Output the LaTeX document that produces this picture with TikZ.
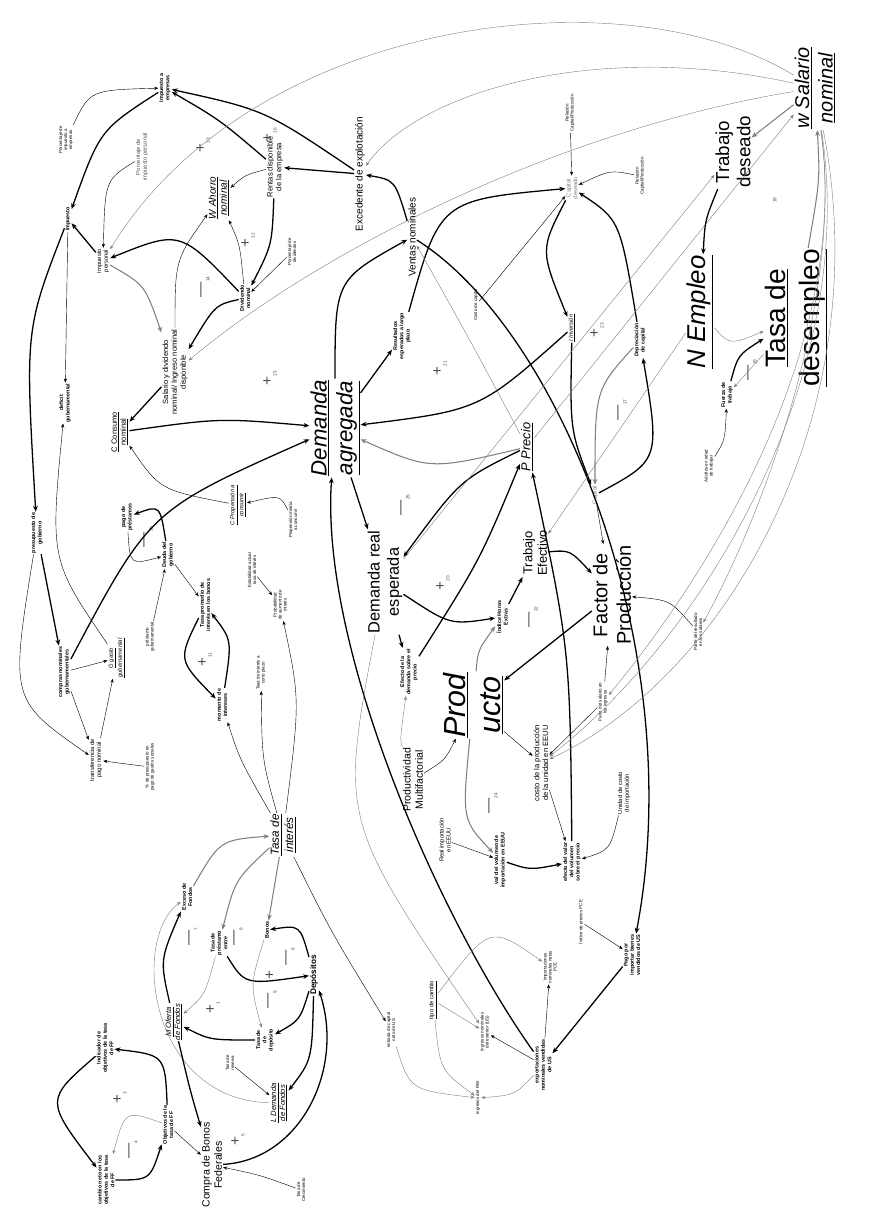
\documentclass[tikz,border=0pt]{standalone}
\usepackage{fontspec}
\setmainfont{Liberation Sans}
\usetikzlibrary{arrows.meta}
\newcommand\ul[1]{\underline{#1}}
\newcommand\uit[1]{\underline{\textit{#1}}}
\newcommand\lpn[2]{#1\raisebox{-4pt}{\fontsize{4}{4}\selectfont #2}}
\tikzset{
  v/.style={rotate=90, align=center, inner sep=0.8pt},
  vt/.style={v, font=\fontsize{3.8}{4.3}\selectfont},
  vs/.style={v, font=\fontsize{5}{5.8}\selectfont},
  vb/.style={v, font=\bfseries\fontsize{4.6}{5.4}\selectfont},
  vn/.style={v, font=\fontsize{6.5}{7.6}\selectfont},
  vm/.style={v, font=\fontsize{8.5}{9.5}\selectfont},
  vl/.style={v, font=\fontsize{11}{12.5}\selectfont},
  vg/.style={v, font=\fontsize{16}{18}\selectfont},
  lp/.style={rotate=90, font=\fontsize{13}{13}\selectfont, inner sep=0pt, gray!60!black},
  ln/.style={-{Stealth[length=3.5pt,width=2.8pt]}, line width=0.35pt},
  lg/.style={ln, gray},
  lk/.style={-{Stealth[length=5pt,width=4pt]}, line width=1.1pt},
  lgk/.style={lk, gray, line width=0.9pt},
}
\begin{document}
\begin{tikzpicture}[x=0.03cm, y=-0.03cm]
  \useasboundingbox (0,0) rectangle (868,1210);
  % ---- empresas, hogares y gobierno
  \node[vb] (impemp) at (165,88) {Impuesto a\\empresas};
  \node[vt] (pctemp) at (66,140) {Porcentaje de\\impuesto a\\empresas};
  \node[vs,gray!70!black] (pctper) at (142,157) {Porcentaje de\\impuesto personal};
  \node[vn] (rentas) at (275,167) {Rentas disponible\\de la empresa};
  \node[vm] (ahorro) at (219,198) {\uit{W Ahorro}\\\uit{nominal}};
  \node[vb] (impto) at (68,219) {Impuesto};
  \node[vs] (impper) at (103,261) {Impuesto\\personal};
  \node[vt] (pctdiv) at (292,252) {Porcentaje de\\dividendos};
  \node[vb] (divnom) at (245,298) {Dividendo\\nominal};
  \node[vn] (saldiv) at (175,372) {Salario y dividendo\\nominal/ Ingreso nominal\\disponible};
  \node[vn] (consumo) at (120,432) {\ul{C Consumo}\\\ul{nominal}};
  \node[vb] (deficit) at (65,403) {deficit\\gubernamental};
  \node[vm] (exced) at (360,174) {Excedente de explotación};
  \node[vm] (ventas) at (412,237) {Ventas nominales};
  \node[vb] (presup) at (37,533) {presupuesto de\\gobierno};
  \node[vb] (pagoint) at (127,517) {pago de\\préstamos};
  \node[vb] (deuda) at (168,555) {Deuda del\\gobierno};
  \node[vt] (prestgob) at (150,637) {préstamo\\gubernamental};
  \node[vs] (propens) at (238,505) {\uit{C Propensión a}\\\uit{consumir}};
  \node[vt] (propmed) at (293,520) {Propensión media\\a consumir};
  \node[vt] (estab) at (252,570) {Estabilidad actual\\tasa de interés};
  \node[vb] (compras) at (64,672) {compras nominales\\gubernamentales};
  \node[vs] (gasto) at (117,658) {\uit{G gasto}\\\uit{gubernamental}};
  \node[vs] (transf) at (96,760) {transferencia de\\pago nominal};
  \node[vt] (pctpres) at (150,767) {\% de presupuesto en\\pago de gastos sociales};
  \node[vb] (tasaprom) at (205,605) {Tasa promedio de\\interés en los bonos};
  \node[vb] (momento) at (222,705) {momento de\\intereses};
  \node[vt] (tasacorto) at (261,673) {Tasa de interés a\\corto plazo};
  \node[vt] (probab) at (280,605) {Probabilidad\\de aumento de\\interés};
  % ---- capital, trabajo y precios
  \node[vt] (relcp1) at (570,113) {Relación\\Capital/Producción};
  \node[vs,gray] (capdes) at (572,188) {Capital\\deseado};
  \node[vt] (relcp2) at (640,176) {Relación\\Capital/Producción};
  \node[vg] (trabdes) at (733,152) {Trabajo\\deseado};
  \node[v,font=\fontsize{17}{20}\selectfont] (salario) at (815,88) {\uit{w Salario}\\\uit{nominal}};
  \node[v,font=\fontsize{22}{24}\selectfont] (nempleo) at (700,312) {\uit{N Empleo}};
  \node[v,font=\fontsize{24}{29}\selectfont] (tasades) at (796,318) {\ul{Tasa de}\\\ul{desempleo}};
  \node[vb] (fuerza) at (727,395) {Fuerza de\\trabajo};
  \node[vt] (adultos) at (709,466) {Adultos en edad\\de trabajar};
  \node[vs] (inversion) at (572,328) {\uit{I Inversión}};
  \node[vb] (deprec) at (640,340) {Depreciación\\de capital};
  \node[vs,gray] (capital) at (595,495) {Capital};
  \node[v,font=\fontsize{19}{22}\selectfont] (demagr) at (335,428) {\uit{Demanda}\\\uit{agregada}};
  \node[vb] (resesp) at (402,336) {Resultados\\esperados a largo\\plazo};
  \node[vt] (costocap) at (476,305) {Costo de capital};
  \node[vl] (precio) at (527,447) {\uit{P Precio}};
  \node[v,font=\fontsize{14}{16.5}\selectfont] (demreal) at (385,582) {Demanda real\\esperada};
  \node[vl] (trabef) at (535,553) {Trabajo\\Efectivo};
  \node[v,font=\fontsize{17}{20}\selectfont] (factor) at (612,595) {Factor de\\Producción};
  \node[vb] (horas) at (502,617) {Índice Horas\\Extras};
  \node[vb] (efdem) at (409,672) {Efecto de la\\demanda sobre el\\precio};
  \node[v,font=\fontsize{26}{30}\selectfont] (prod) at (473,705) {\uit{Prod}\\\uit{ucto}};
  \node[v,font=\fontsize{9}{10.5}\selectfont] (pmf) at (413,780) {Productividad\\Multifactorial};
  \node[vn] (costprod) at (541,763) {costo de la producción\\de la unidad en EEUU};
  \node[vs] (realimp) at (445,840) {Real importación\\en EEUU};
  \node[vb] (valvol) at (500,860) {val del volumen de\\importación en EEUU};
  \node[vb] (efval) at (572,862) {efecto del valor\\del volumen\\sobre el precio};
  \node[vs] (unidad) at (624,793) {Unidad de costo\\de importación};
  \node[vt] (partesal) at (603,702) {Parte del salario en\\los ingresos};
  \node[vt] (parteres) at (698,632) {Parte del resultado\\en los salarios};
  % ---- sector externo
  \node[vt] (indprec) at (581,922) {Índice de precios PCE};
  \node[vb] (pago) at (632,955) {Pago por\\importar bienes\\vendidos de US};
  \node[vb] (export) at (543,1065) {exportaciones\\nominales vendidas\\de US};
  \node[vt] (imppce) at (550,967) {Importaciones\\nominales netas\\PCE};
  \node[vs] (tipo) at (433,1000) {\ul{tipo de cambio}};
  \node[vt] (ingnom) at (485,1032) {Ingresos nominales\\del exterior (US)};
  \node[vt] (ingrw) at (478,1098) {Ingresos del RW};
  \node[vt] (entrada) at (391,1030) {entrada de capital\\neto de US};
  % ---- mercado de fondos
  \node[v,font=\fontsize{10}{12}\selectfont] (tasaint) at (283,835) {\uit{Tasa de}\\\uit{interés}};
  \node[v,font=\bfseries\fontsize{7}{8}\selectfont] (depos) at (314,975) {Depósitos};
  \node[vt] (tasacrec) at (301,1190) {Tasa de\\Crecimiento};
  \node[v,font=\fontsize{9}{10.5}\selectfont] (compra) at (212,1165) {Compra de Bonos\\Federales};
  \node[vn] (ldem) at (279,1103) {\uit{L Demanda}\\\uit{de Fondos}};
  \node[vt] (tasares) at (230,1063) {Tasa de\\reserva};
  \node[vn] (moferta) at (174,1022) {\uit{M Oferta}\\\uit{de Fondos}};
  \node[vb] (exceso) at (187,897) {Exceso de\\Fondos};
  \node[vb] (tasaprest) at (219,943) {Tasa de\\préstamo\\entre};
  \node[vb] (bonos) at (267,930) {Bonos};
  \node[vb] (tasadep) at (265,1040) {Tasa de\\de\\depósito};
  \node[vb] (indic) at (105,1048) {Indicador de\\objetivos de la tasa\\de FF};
  \node[vb] (objet) at (168,1125) {Objetivos de la\\tasa de FF};
  \node[vb] (cambio) at (106,1180) {cambio neto en los\\objetivos de la tasa\\de FF};
  % ---- lazos
  \node[lp] at (203,145) {\lpn{+}{13}};
  \node[lp] at (270,135) {\lpn{+}{16}};
  \node[lp] at (248,240) {\lpn{+}{12}};
  \node[lp] at (205,287) {\lpn{\textemdash}{14}};
  \node[lp] at (270,378) {\lpn{+}{15}};
  \node[lp] at (440,368) {\lpn{+}{21}};
  \node[lp] at (405,505) {\lpn{\textemdash}{25}};
  \node[lp] at (443,583) {\lpn{+}{20}};
  \node[lp] at (533,617) {\lpn{\textemdash}{22}};
  \node[lp] at (597,330) {\lpn{+}{23}};
  \node[lp] at (622,410) {\lpn{\textemdash}{17}};
  \node[lp] at (774,200) {\lpn{}{18}};
  \node[lp] at (752,370) {\lpn{\textemdash}{19}};
  \node[lp] at (493,803) {\lpn{\textemdash}{24}};
  \node[lp] at (148,537) {\lpn{\textemdash}{10}};
  \node[lp] at (205,660) {\lpn{+}{11}};
  \node[lp] at (120,1098) {\lpn{+}{3}};
  \node[lp] at (133,1150) {\lpn{\textemdash}{4}};
  \node[lp] at (238,1140) {\lpn{+}{5}};
  \node[lp] at (193,937) {\lpn{\textemdash}{7}};
  \node[lp] at (238,937) {\lpn{\textemdash}{8}};
  \node[lp] at (290,957) {\lpn{\textemdash}{6}};
  \node[lp] at (270,975) {+};
  \node[lp] at (272,1000) {\lpn{\textemdash}{9}};
  \node[lp] at (213,1008) {\lpn{+}{1}};
  % ---- conectores: empresas, hogares y gobierno
  \draw[lk] (exced) .. controls (265,110) .. (impemp);
  \draw[lk] (rentas) .. controls (220,120) .. (impemp);
  \draw[lk] (exced) -- (rentas);
  \draw[ln] (pctemp) .. controls (90,90) .. (impemp);
  \draw[lk] (impemp) .. controls (100,130) .. (impto);
  \draw[lk] (impper) -- (impto);
  \draw[ln] (pctper) .. controls (105,180) .. (impper);
  \draw[lg] (salario) .. controls (620,-30) and (250,20) .. (impper);
  \draw[lg] (salario) .. controls (600,40) and (420,90) .. (exced);
  \draw[lg] (salario) .. controls (560,130) and (320,250) .. (saldiv);
  \draw[lk] (divnom) .. controls (180,230) .. (impper);
  \draw[ln] (rentas) .. controls (245,175) .. (ahorro);
  \draw[lk] (rentas) .. controls (272,245) .. (divnom);
  \draw[ln] (pctdiv) -- (divnom);
  \draw[ln] (divnom) .. controls (240,245) .. (ahorro);
  \draw[ln] (saldiv) .. controls (175,260) .. (ahorro);
  \draw[lk] (divnom) .. controls (215,305) .. (saldiv);
  \draw[lgk] (impper) .. controls (145,285) .. (saldiv);
  \draw[lk] (saldiv) -- (consumo);
  \draw[lk] (consumo) .. controls (220,418) .. (demagr);
  \draw[lk] (compras) .. controls (150,510) .. (demagr);
  \draw[ln] (propens) .. controls (160,490) .. (consumo);
  \draw[ln] (propmed) .. controls (280,495) .. (propens);
  \draw[ln] (impto) -- (deficit);
  \draw[lk] (impto) .. controls (25,330) .. (presup);
  \draw[ln] (gasto) .. controls (50,560) .. (deficit);
  \draw[lk] (presup) -- (compras);
  \draw[ln] (presup) .. controls (10,700) .. (transf);
  \draw[ln] (compras) -- (gasto);
  \draw[ln] (transf) -- (gasto);
  \draw[ln] (pctpres) -- (transf);
  \draw[ln] (compras) -- (transf);
  \draw[lk] (deuda) .. controls (160,505) .. (pagoint);
  \draw[ln] (pagoint) .. controls (130,565) .. (deuda);
  \draw[ln] (deuda) -- (tasaprom);
  \draw[ln] (prestgob) -- (deuda);
  \draw[ln] (estab) -- (probab);
  \draw[lk] (tasaprom) .. controls (178,660) .. (momento);
  \draw[lk] (momento) .. controls (232,640) .. (tasaprom);
  % ---- conectores: capital, trabajo y precios
  \draw[lk] (demagr) .. controls (335,280) .. (ventas);
  \draw[lk] (demagr) -- (resesp);
  \draw[lk] (resesp) .. controls (440,200) .. (capdes);
  \draw[lk] (demagr) -- (demreal);
  \draw[lk] (ventas) .. controls (395,180) .. (exced);
  \draw[lk] (ventas) .. controls (560,330) and (690,650) .. (pago);
  \draw[lk] (export) .. controls (440,920) and (320,650) .. (demagr);
  \draw[lk] (pago) -- (export);
  \draw[lk] (efval) .. controls (570,650) .. (precio);
  \draw[lk] (capdes) .. controls (540,250) .. (inversion);
  \draw[lk] (deprec) .. controls (620,220) .. (capdes);
  \draw[ln] (relcp1) -- (capdes);
  \draw[ln] (relcp2) .. controls (610,170) .. (capdes);
  \draw[ln] (costocap) -- (capdes);
  \draw[lk] (inversion) .. controls (480,410) .. (demagr);
  \draw[lk] (inversion) .. controls (570,430) .. (capital);
  \draw[lk] (capital) .. controls (660,460) .. (deprec);
  \draw[lgk] (deprec) .. controls (595,390) .. (capital);
  \draw[ln] (capital) -- (factor);
  \draw[lk] (trabef) .. controls (570,550) .. (factor);
  \draw[lk] (factor) -- (prod);
  \draw[lgk] (prod) .. controls (478,650) .. (horas);
  \draw[lk] (horas) -- (trabef);
  \draw[lk] (demreal) .. controls (450,625) .. (horas);
  \draw[lk] (demreal) -- (efdem);
  \draw[lk] (efdem) .. controls (480,560) .. (precio);
  \draw[lk] (precio) .. controls (460,480) .. (demreal);
  \draw[lgk] (precio) .. controls (430,470) .. (demagr);
  \draw[lg] (precio) .. controls (470,340) .. (ventas);
  \draw[lg] (precio) -- (salario);
  \draw[lg] (demreal) -- (trabdes);
  \draw[ln] (pmf) .. controls (445,760) .. (prod);
  \draw[lg] (pmf) .. controls (400,740) .. (efdem);
  \draw[lgk] (prod) .. controls (462,820) .. (valvol);
  \draw[ln] (realimp) -- (valvol);
  \draw[lk] (valvol) .. controls (530,870) .. (efval);
  \draw[ln] (costprod) -- (efval);
  \draw[ln] (prod) -- (costprod);
  \draw[ln] (partesal) -- (costprod);
  \draw[ln] (unidad) .. controls (610,850) .. (efval);
  \draw[ln] (indprec) -- (pago);
  \draw[ln] (parteres) .. controls (670,600) .. (factor);
  \draw[ln] (partesal) -- (factor);
  \draw[lg] (salario) .. controls (880,420) and (720,680) .. (costprod);
  \draw[lg] (salario) .. controls (860,380) and (700,640) .. (costprod);
  \draw[lg] (salario) .. controls (850,340) and (720,560) .. (partesal);
  \draw[lg] (salario) .. controls (845,300) and (760,520) .. (parteres);
  \draw[lk] (trabdes) .. controls (705,220) .. (nempleo);
  \draw[lgk] (salario) -- (trabdes);
  \draw[lgk] (tasades) .. controls (820,180) .. (salario);
  \draw[lg] (nempleo) .. controls (730,345) .. (tasades);
  \draw[lk] (fuerza) .. controls (738,355) .. (tasades);
  \draw[lg] (tasades) -- (fuerza);
  \draw[ln] (adultos) .. controls (725,440) .. (fuerza);
  \draw[lg] (nempleo) -- (trabef);
  % ---- conectores: sector externo
  \draw[ln] (export) -- (ingnom);
  \draw[lg] (export) .. controls (515,1095) .. (ingrw);
  \draw[ln] (export) -- (imppce);
  \draw[lg] (tipo) -- (ingnom);
  \draw[lg] (tipo) .. controls (490,925) .. (imppce);
  \draw[lg] (tipo) .. controls (440,1070) .. (ingrw);
  \draw[lg] (entrada) .. controls (410,1090) .. (ingrw);
  \draw[ln] (tasaint) .. controls (330,930) .. (entrada);
  \draw[lg] (demreal) .. controls (340,820) .. (ingnom);
  % ---- conectores: mercado de fondos
  \draw[lk] (moferta) .. controls (160,960) .. (exceso);
  \draw[lg] (ldem) .. controls (150,1100) and (130,940) .. (exceso);
  \draw[lgk] (exceso) .. controls (220,840) .. (tasaint);
  \draw[lgk] (tasaint) .. controls (235,880) .. (tasaprest);
  \draw[lgk] (tasaint) -- (bonos);
  \draw[lg] (tasaprest) .. controls (205,995) .. (moferta);
  \draw[lk] (tasaprest) .. controls (245,985) .. (depos);
  \draw[lk] (depos) .. controls (300,925) .. (bonos);
  \draw[lg] (bonos) .. controls (250,985) .. (tasadep);
  \draw[lk] (depos) .. controls (300,1020) .. (tasadep);
  \draw[lk] (tasadep) .. controls (210,1040) .. (moferta);
  \draw[lk] (depos) .. controls (312,1060) .. (ldem);
  \draw[lk] (compra) .. controls (300,1160) and (345,1070) .. (depos);
  \draw[ln] (tasares) -- (ldem);
  \draw[lk] (moferta) .. controls (190,1090) .. (compra);
  \draw[ln] (tasacrec) .. controls (260,1175) .. (compra);
  \draw[ln] (objet) -- (compra);
  \draw[lg] (objet) .. controls (125,1110) .. (cambio);
  \draw[lk] (cambio) .. controls (150,1180) .. (objet);
  \draw[lk] (indic) .. controls (45,1100) .. (cambio);
  \draw[lk] (objet) .. controls (165,1055) .. (indic);
  \draw[ln] (tasaint) .. controls (240,760) .. (momento);
  \draw[ln] (tasaint) .. controls (262,760) .. (tasacorto);
  \draw[ln] (tasaint) .. controls (300,700) .. (probab);
\end{tikzpicture}
\end{document}
